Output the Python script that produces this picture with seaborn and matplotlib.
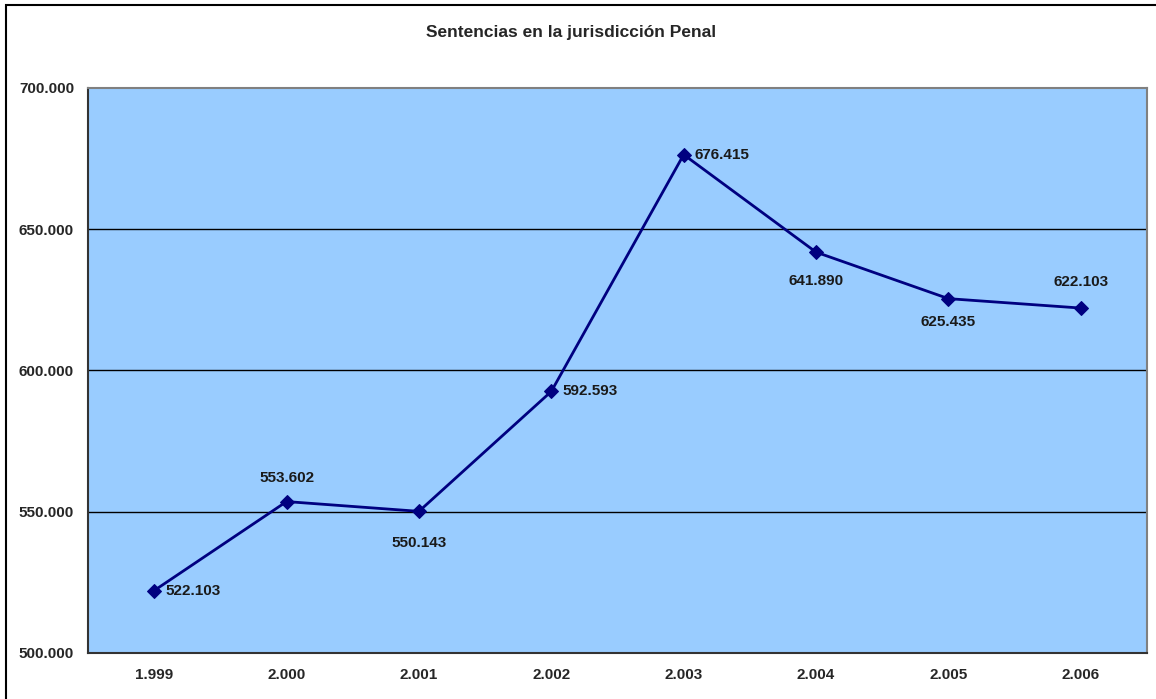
import matplotlib
matplotlib.use("Agg")
import matplotlib.pyplot as plt
import seaborn as sns
import pandas as pd
from matplotlib.patches import Rectangle

years = ["1.999", "2.000", "2.001", "2.002", "2.003", "2.004", "2.005", "2.006"]
values = [522103, 553602, 550143, 592593, 676415, 641890, 625435, 622103]
labels = ["522.103", "553.602", "550.143", "592.593", "676.415", "641.890", "625.435", "622.103"]
yticks = [500000, 550000, 600000, 650000, 700000]
ytick_labels = ["500.000", "550.000", "600.000", "650.000", "700.000"]
title = "Sentencias en la jurisdicción Penal"

sns.set_theme(style="white")
plt.rcParams['font.family'] = ['Liberation Sans', 'DejaVu Sans']

W, H = 1156, 699
fig = plt.figure(figsize=(W / 100, H / 100), dpi=100)
fig.patch.set_facecolor("white")
fig.patches.append(Rectangle((6 / W, -0.01), 1.02, 1 - 5 / H + 0.01, transform=fig.transFigure,
                             fill=False, edgecolor="black", linewidth=1.5, zorder=0))

ax = fig.add_axes([88 / W, 1 - 653 / H, (1147 - 88) / W, (653 - 88) / H])
ax.set_facecolor("#99CCFF")

df = pd.DataFrame({"x": list(range(len(years))), "y": values})
sns.lineplot(data=df, x="x", y="y", ax=ax, color="#000080", linewidth=2,
             marker="D", markersize=7, markeredgecolor="#000080", zorder=3)

ax.set_xlim(-0.5, len(years) - 0.5)
ax.set_ylim(500000, 700000)
ax.set_yticks(yticks)
ax.set_yticklabels(ytick_labels, fontsize=11, fontweight="bold")
ax.set_xticks([i for i in range(len(years))])
ax.set_xticklabels(years, fontsize=11, fontweight="bold")
ax.set_xticks([i - 0.5 for i in range(len(years) + 1)], minor=True)
ax.tick_params(axis="x", which="major", length=0, pad=11)
ax.tick_params(axis="x", which="minor", length=5, width=1, color="#333333", direction="inout")
ax.tick_params(axis="y", which="major", length=6, width=1, color="#333333", direction="out", pad=4)
ax.set_xlabel("")
ax.set_ylabel("")
for yv in yticks[1:-1]:
    ax.axhline(yv, color="black", linewidth=1, zorder=1)

for side in ["left", "bottom"]:
    ax.spines[side].set_color("#333333")
    ax.spines[side].set_linewidth(1.5)
for side in ["top", "right"]:
    ax.spines[side].set_color("#808080")
    ax.spines[side].set_linewidth(1.5)

# label offsets in pixels (dx, dy up) and horizontal alignment
label_off = [(11, 0, "left"), (0, 24, "center"), (0, -32, "center"), (11, 0, "left"),
             (11, 0, "left"), (0, -29, "center"), (0, -23, "center"), (0, 26, "center")]
for i, (v, lab, (dx, dy, ha)) in enumerate(zip(values, labels, label_off)):
    ax.annotate(lab, (i, v), xytext=(dx * 0.72, dy * 0.72), textcoords="offset points",
                ha=ha, va="center", fontsize=11, fontweight="bold", color="#1a1a1a")

fig.text(571 / W, 1 - 33 / H, title, ha="center", va="center", fontsize=12.5, fontweight="bold")

fig.savefig("out.png", dpi=100)
